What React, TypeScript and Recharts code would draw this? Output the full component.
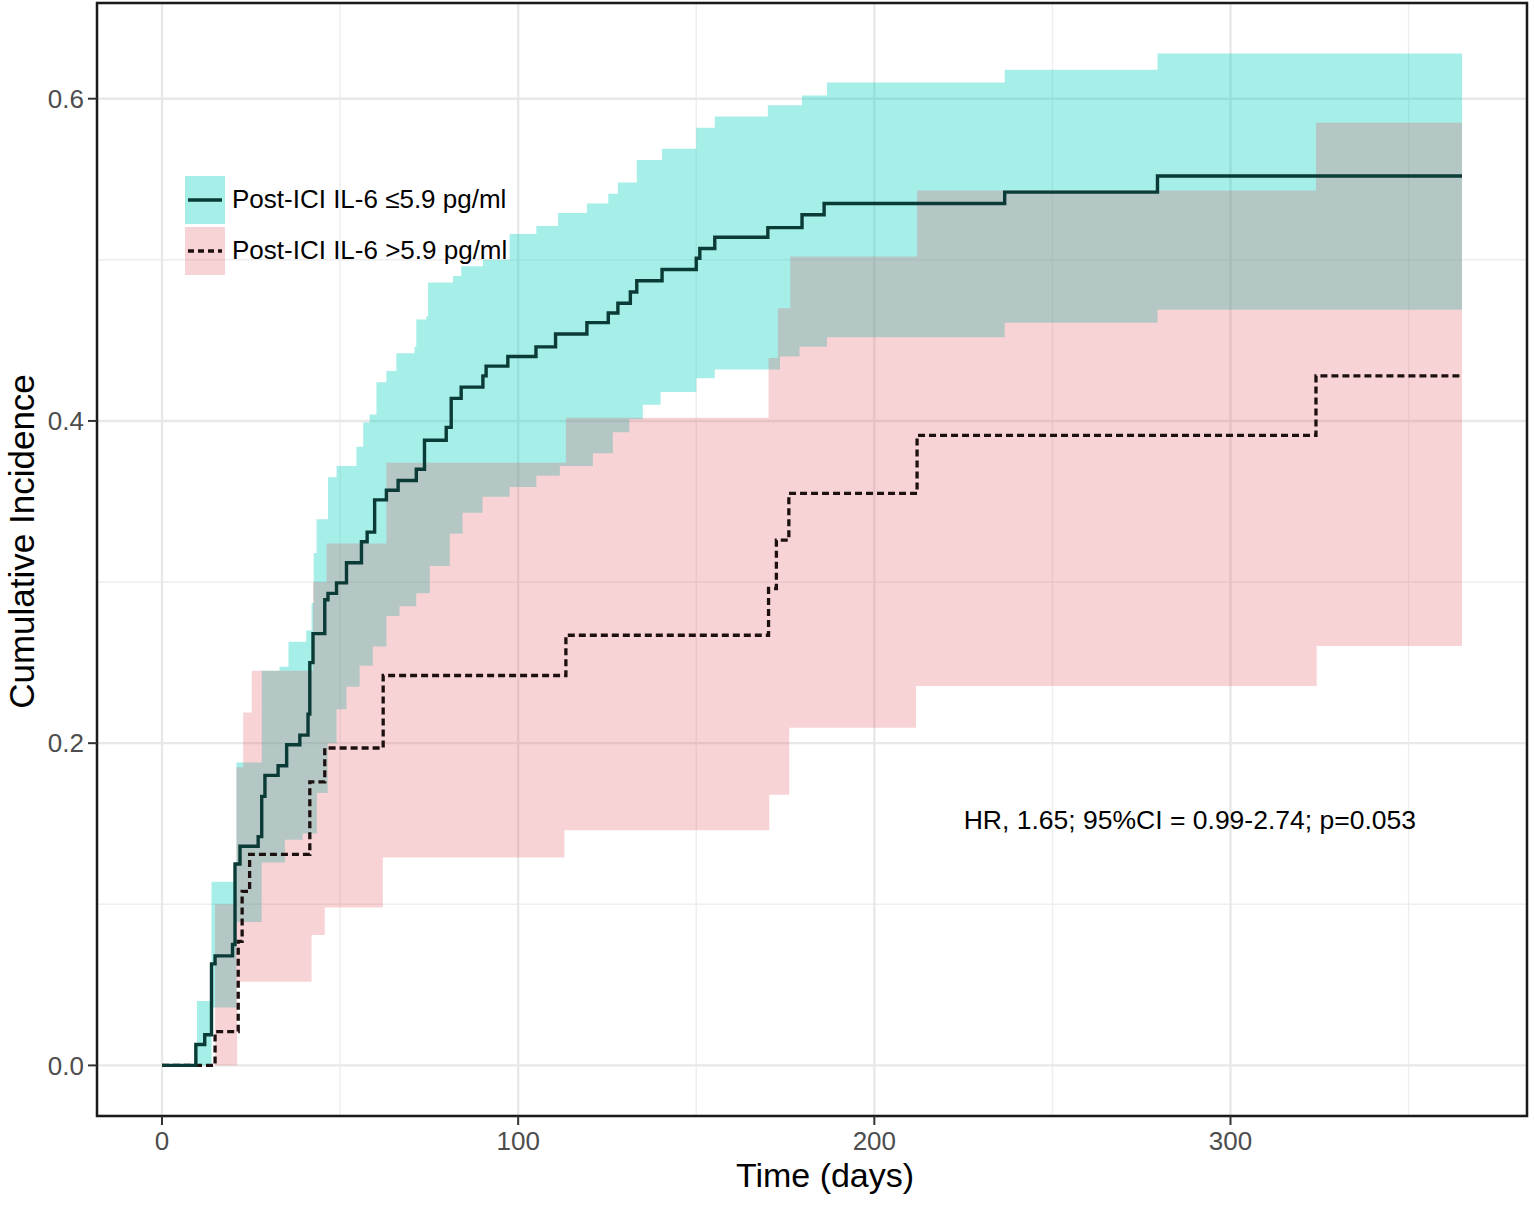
import React from 'react';
import {
  ComposedChart,
  Area,
  Line,
  XAxis,
  YAxis,
  CartesianGrid,
  Legend,
  ReferenceArea,
  ReferenceDot,
} from 'recharts';

const FONT = '"Liberation Sans", Arial, Helvetica, sans-serif';

// step curves: time (days) where the value changes, and the new value
const SOLID_T = [0, 9.5, 12, 13.9, 14.9, 19.8, 20.5, 21.9, 27, 28, 28.9, 32.6, 35, 38.7, 41, 41.5, 42.4, 45.7, 46.6, 49, 51.8, 56, 57.6, 59.7, 63, 66.3, 71.4, 73.7, 79.8, 81.2, 84, 90.1, 91, 97.1, 105, 110.5, 119.3, 125.3, 128, 131.5, 133.3, 140.4, 150, 151, 155.2, 170.1, 179.7, 185.9, 236.6, 279.5, 365];
const SOLID_V = [0, 0.013, 0.019, 0.063, 0.068, 0.075, 0.125, 0.136, 0.142, 0.167, 0.18, 0.186, 0.199, 0.205, 0.218, 0.25, 0.268, 0.289, 0.293, 0.2995, 0.312, 0.325, 0.331, 0.351, 0.357, 0.363, 0.37, 0.388, 0.396, 0.414, 0.421, 0.428, 0.434, 0.44, 0.446, 0.454, 0.461, 0.467, 0.473, 0.48, 0.487, 0.494, 0.501, 0.507, 0.514, 0.52, 0.528, 0.535, 0.542, 0.552, 0.552];

const DASH_T = [0, 14.9, 21.4, 22.5, 24.6, 41.5, 45.7, 62.1, 113.4, 170.3, 172.5, 176, 212, 324, 365];
const DASH_V = [0, 0.021, 0.077, 0.108, 0.131, 0.176, 0.197, 0.242, 0.267, 0.296, 0.326, 0.355, 0.391, 0.428, 0.428];

const TEAL_HI_T = [0, 9.8, 13.9, 20.9, 28, 33, 35.5, 40.5, 42, 42.6, 43.4, 46.6, 49, 54.6, 56.5, 58.3, 60.2, 63, 65.8, 70.9, 71.4, 74.2, 74.7, 81.7, 84, 90.1, 97.6, 105.1, 111.2, 119.3, 125.3, 128, 133.3, 140.4, 150, 155.2, 170.1, 179.7, 186.7, 236.6, 279.5, 365];
const TEAL_HI_V = [0, 0.04, 0.114, 0.188, 0.245, 0.2475, 0.263, 0.27, 0.287, 0.318, 0.339, 0.365, 0.372, 0.384, 0.399, 0.404, 0.424, 0.431, 0.442, 0.446, 0.463, 0.465, 0.486, 0.49, 0.496, 0.5, 0.516, 0.521, 0.529, 0.535, 0.541, 0.548, 0.562, 0.569, 0.582, 0.589, 0.596, 0.602, 0.61, 0.618, 0.628, 0.628];

const TEAL_LO_T = [0, 13.9, 20.9, 28, 34.5, 39.5, 43.5, 46.5, 49, 51.8, 55.5, 59.2, 63, 66.7, 71.4, 75.2, 80.8, 84.4, 90, 97.6, 105.1, 111.7, 121, 126.6, 131.2, 135, 140, 150, 155.2, 173.5, 179, 186.7, 236.6, 279.5, 365];
const TEAL_LO_V = [0, 0.036, 0.089, 0.126, 0.14, 0.144, 0.169, 0.2, 0.221, 0.235, 0.248, 0.26, 0.279, 0.285, 0.293, 0.31, 0.33, 0.343, 0.353, 0.359, 0.366, 0.372, 0.38, 0.393, 0.401, 0.41, 0.418, 0.4265, 0.432, 0.44, 0.446, 0.452, 0.461, 0.469, 0.469];

const PINK_HI_T = [0, 14.9, 20.9, 22.8, 25.2, 42.4, 46.2, 63, 113.4, 170.3, 172.9, 176.4, 212, 324, 365];
const PINK_HI_V = [0, 0.1, 0.185, 0.219, 0.245, 0.3, 0.324, 0.374, 0.402, 0.439, 0.47, 0.502, 0.543, 0.585, 0.585];

const PINK_LO_T = [0, 14.9, 21.1, 42, 45.7, 62, 113, 170.5, 176.1, 211.7, 324.2, 365];
const PINK_LO_V = [0, 0, 0.052, 0.081, 0.098, 0.129, 0.146, 0.168, 0.2095, 0.2355, 0.2603, 0.2603];

const X_TICKS = [0, 100, 200, 300];
const X_MINOR = [50, 150, 250, 350];
const Y_TICKS = [0, 0.2, 0.4, 0.6];
const Y_MINOR = [0.1, 0.3, 0.5];
const X_DOMAIN: [number, number] = [-18.25, 383.25];
const Y_DOMAIN: [number, number] = [-0.0314, 0.6594];

const LEGEND_ITEMS = [
  { label: 'Post-ICI IL-6 ≤5.9 pg/ml', fill: '#00D2BE', opacity: 0.353, dash: undefined, color: '#0b3b36' },
  { label: 'Post-ICI IL-6 >5.9 pg/ml', fill: '#E4535F', opacity: 0.256, dash: '6 4', color: '#1c1010' },
];
const ANNOTATION = 'HR,  1.65; 95%CI = 0.99-2.74; p=0.053';

// value of a step series at time t (last change at or before t)
const stepAt = (ts: number[], vs: number[], t: number) => {
  let v = vs[0];
  for (let i = 0; i < ts.length; i++) {
    if (ts[i] <= t) v = vs[i];
    else break;
  }
  return v;
};

const allTimes = Array.from(
  new Set([...SOLID_T, ...DASH_T, ...TEAL_HI_T, ...TEAL_LO_T, ...PINK_HI_T, ...PINK_LO_T])
).sort((a, b) => a - b);

const rows = allTimes.map((t) => ({
  t,
  low: stepAt(SOLID_T, SOLID_V, t),
  high: stepAt(DASH_T, DASH_V, t),
  tealBand: [stepAt(TEAL_LO_T, TEAL_LO_V, t), stepAt(TEAL_HI_T, TEAL_HI_V, t)],
  pinkBand: [stepAt(PINK_LO_T, PINK_LO_V, t), stepAt(PINK_HI_T, PINK_HI_V, t)],
}));

const LegendBox = () => (
  <div style={{ fontFamily: FONT, fontSize: 26, color: '#000' }}>
    {LEGEND_ITEMS.map((item) => (
      <div key={item.label} style={{ display: 'flex', alignItems: 'center', height: 51 }}>
        <svg width={40} height={48}>
          <rect x={0} y={0} width={40} height={48} fill={item.fill} fillOpacity={item.opacity} />
          <line x1={3} x2={37} y1={24} y2={24} stroke={item.color} strokeWidth={3.3} strokeDasharray={item.dash} />
        </svg>
        <span style={{ marginLeft: 7, whiteSpace: 'nowrap' }}>{item.label}</span>
      </div>
    ))}
  </div>
);

const YTitle = ({ viewBox }: any) => {
  const cx = viewBox.x + 21;
  const cy = viewBox.y + viewBox.height / 2 - 18;
  return (
    <text x={cx} y={cy} transform={`rotate(-90 ${cx} ${cy})`} textAnchor="middle" dominantBaseline="central"
      fontSize={35} fontFamily={FONT} fill="#000">
      Cumulative Incidence
    </text>
  );
};

const XTitle = ({ viewBox }: any) => {
  const cx = viewBox.x + viewBox.width / 2 + 13;
  return (
    <text x={cx} y={viewBox.y + 71} textAnchor="middle" fontSize={34} fontFamily={FONT} fill="#000">
      Time (days)
    </text>
  );
};

export default function App() {
  return (
    <div style={{ width: 1535, height: 1210, background: '#fff' }}>
      <style>{'body{margin:0}'}</style>
      <ComposedChart width={1535} height={1210} data={rows} margin={{ top: 3, right: 8, bottom: 0, left: 0 }}>
        <XAxis xAxisId="minor" dataKey="t" type="number" domain={X_DOMAIN} ticks={X_MINOR} hide allowDataOverflow />
        <YAxis yAxisId="minor" type="number" domain={Y_DOMAIN} ticks={Y_MINOR} hide allowDataOverflow />
        <CartesianGrid xAxisId="minor" yAxisId="minor" stroke="#EEEEEE" strokeWidth={1.4} />
        <CartesianGrid stroke="#E8E8E8" strokeWidth={2.4} />
        <XAxis
          dataKey="t"
          type="number"
          domain={X_DOMAIN}
          ticks={X_TICKS}
          allowDataOverflow
          height={94}
          axisLine={false}
          tickSize={9}
          tickMargin={7}
          tickLine={{ stroke: '#333', strokeWidth: 2 }}
          tick={{ fill: '#4d4d4d', fontSize: 26, fontFamily: FONT }}
          label={<XTitle />}
        />
        <YAxis
          type="number"
          domain={Y_DOMAIN}
          ticks={Y_TICKS}
          allowDataOverflow
          width={97}
          axisLine={false}
          tickSize={9}
          tickMargin={4}
          tickLine={{ stroke: '#333', strokeWidth: 2 }}
          tick={{ fill: '#4d4d4d', fontSize: 26, fontFamily: FONT }}
          tickFormatter={(v: number) => v.toFixed(1)}
          label={<YTitle />}
        />
        <Area dataKey="tealBand" type="stepAfter" fill="#00D2BE" fillOpacity={0.353} stroke="none" isAnimationActive={false} />
        <Area dataKey="pinkBand" type="stepAfter" fill="#E4535F" fillOpacity={0.256} stroke="none" isAnimationActive={false} />
        <Line dataKey="high" type="stepAfter" stroke="#1c1010" strokeWidth={3.3} strokeDasharray="7 4" dot={false} isAnimationActive={false} />
        <Line dataKey="low" type="stepAfter" stroke="#0b3b36" strokeWidth={3.4} dot={false} isAnimationActive={false} />
        <ReferenceArea x1={X_DOMAIN[0]} x2={X_DOMAIN[1]} y1={Y_DOMAIN[0]} y2={Y_DOMAIN[1]} fill="none" stroke="#1a1a1a" strokeWidth={2.5} ifOverflow="visible" />
        <ReferenceDot x={288.6} y={0.1523} r={0} fill="none" stroke="none" ifOverflow="visible"
          label={{ value: ANNOTATION, position: 'center', fontSize: 26.5, fill: '#000', fontFamily: FONT }} />
        <Legend layout="vertical" align="center" verticalAlign="middle" content={<LegendBox />}
          wrapperStyle={{ left: 185, top: 174, width: 'auto', height: 'auto' }} />
      </ComposedChart>
    </div>
  );
}
